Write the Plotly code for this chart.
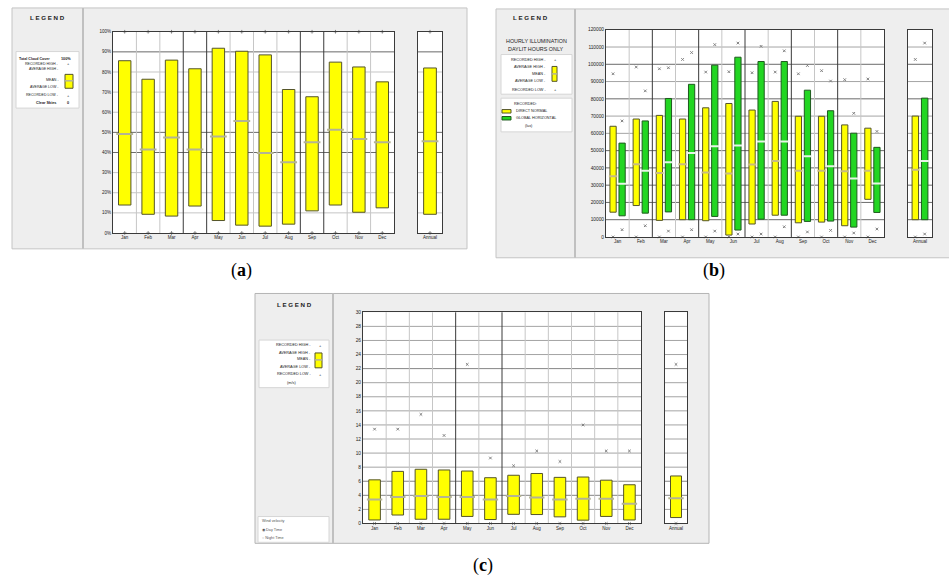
import plotly.graph_objects as go

# ---------------------------------------------------------------- data
MONTHS = ["Jan", "Feb", "Mar", "Apr", "May", "Jun", "Jul", "Aug", "Sep", "Oct", "Nov", "Dec"]
ANNUAL = ["Annual"]

# (a) total cloud cover, %
CLOUD_REC_HIGH = [100, 100, 100, 100, 100, 100, 100, 100, 100, 100, 100, 100]
CLOUD_AVG_HIGH = [85.6, 76.4, 85.9, 81.6, 91.8, 90.3, 88.5, 71.3, 67.7, 84.9, 82.5, 75.1]
CLOUD_MEAN = [49.2, 41.5, 47.5, 41.5, 48.0, 55.7, 39.7, 35.2, 45.1, 51.3, 46.7, 45.1]
CLOUD_AVG_LOW = [13.9, 9.3, 8.4, 13.4, 6.2, 3.9, 3.4, 4.4, 11.0, 13.9, 10.3, 12.5]
CLOUD_REC_LOW = [0, 0, 0, 0, 0, 0, 0, 0, 0, 0, 0, 0]
CLOUD_YR_REC_HIGH = [100]
CLOUD_YR_AVG_HIGH = [82.0]
CLOUD_YR_MEAN = [45.6]
CLOUD_YR_AVG_LOW = [9.3]
CLOUD_YR_REC_LOW = [0]
CLOUD_TICKS = [0, 10, 20, 30, 40, 50, 60, 70, 80, 90, 100]

# (b) hourly illumination, daylit hours only (lux)
DN_REC_HIGH = [94500, 98400, 97400, 102800, 95500, 95700, 95100, 95500, 94500, 96300, 91100, 91500]
DN_AVG_HIGH = [64100, 68300, 70400, 68300, 74800, 77300, 73500, 78500, 69900, 69900, 64900, 63000]
DN_MEAN = [35200, 42100, 37100, 42100, 37300, 36700, 41900, 44000, 38300, 38300, 38100, 38300]
DN_AVG_LOW = [14350, 18200, 9600, 10000, 9400, 1100, 7500, 12600, 8200, 8600, 6500, 21800]
DN_REC_LOW = [0, 0, 0, 0, 0, 0, 0, 0, 0, 0, 0, 0]
GH_REC_HIGH = [67200, 84600, 98000, 106800, 111400, 112300, 110400, 107800, 99300, 90300, 71600, 61100]
GH_AVG_HIGH = [54350, 67200, 80200, 88400, 99500, 104100, 101600, 101600, 85000, 73100, 60100, 51900]
GH_MEAN = [30800, 38300, 43300, 48600, 52600, 53000, 55300, 55300, 46700, 41000, 33900, 31000]
GH_AVG_LOW = [12250, 13800, 14500, 10000, 11900, 4000, 10300, 12600, 9000, 9200, 5700, 14200]
GH_REC_LOW = [4200, 6500, 3400, 4200, 3400, 1700, 1700, 5900, 2900, 3800, 2300, 4600]
DN_YR_REC_HIGH = [102800]
DN_YR_AVG_HIGH = [70000]
DN_YR_MEAN = [38900]
DN_YR_AVG_LOW = [10000]
DN_YR_REC_LOW = [0]
GH_YR_REC_HIGH = [112300]
GH_YR_AVG_HIGH = [80400]
GH_YR_MEAN = [44000]
GH_YR_AVG_LOW = [10000]
GH_YR_REC_LOW = [1700]
LUX_TICKS = [0, 10000, 20000, 30000, 40000, 50000, 60000, 70000, 80000, 90000, 100000, 110000, 120000]

# (c) wind velocity (m/s)
WIND_REC_HIGH = [13.4, 13.4, 15.5, 12.5, 22.6, 9.3, 8.2, 10.3, 8.8, 14.0, 10.3, 10.3]
WIND_AVG_HIGH = [6.2, 7.4, 7.7, 7.6, 7.45, 6.5, 6.85, 7.1, 6.55, 6.6, 6.15, 5.5]
WIND_MEAN = [3.4, 3.75, 3.9, 3.75, 3.75, 3.4, 3.9, 3.7, 3.4, 3.5, 3.5, 2.8]
WIND_AVG_LOW = [0.5, 1.2, 0.6, 0.6, 1.0, 0.56, 1.3, 1.27, 0.94, 0.47, 1.0, 0.5]
WIND_REC_LOW = [0, 0, 0, 0, 0, 0, 0, 0, 0, 0, 0, 0]
WIND_YR_REC_HIGH = [22.6]
WIND_YR_AVG_HIGH = [6.75]
WIND_YR_MEAN = [3.6]
WIND_YR_AVG_LOW = [0.84]
WIND_YR_REC_LOW = [0]
WIND_TICKS = [0, 2, 4, 6, 8, 10, 12, 14, 16, 18, 20, 22, 24, 26, 28, 30]

# ---------------------------------------------------------------- style
W, H = 949, 581
FONT = "Liberation Sans, Arial, sans-serif"
PANEL_BG = "#eeeeee"
PANEL_EDGE = "#c4c4c4"
GRID_LIGHT = "#c6c6c6"
GRID_MID = "#a4a4a4"
GRID_DARK = "#6a6a6a"
AXIS_DARK = "#3a3a3a"
YELLOW = "#ffff00"
YELLOW_EDGE = "#55552a"
GREEN = "#22d622"
GREEN_EDGE = "#1e5a1e"
MARK = "#808080"

fig = go.Figure()
shapes = []
annotations = []


def fx(px):
    return px / W


def fy(py):
    return 1 - py / H


def rect(x0, y0, x1, y1, fill, edge, lw=1):
    shapes.append(dict(type="rect", xref="paper", yref="paper", x0=fx(x0), x1=fx(x1),
                       y0=fy(y1), y1=fy(y0), fillcolor=fill, line=dict(color=edge, width=lw),
                       layer="below"))


def vline(x, y0, y1, color, lw=1):
    shapes.append(dict(type="line", xref="paper", yref="paper", x0=fx(x), x1=fx(x),
                       y0=fy(y1), y1=fy(y0), line=dict(color=color, width=lw), layer="below"))


def text(x, y, s, size=4, anchor="right", bold=False, color="#222222", family=FONT):
    if bold:
        s = "<b>" + s + "</b>"
    annotations.append(dict(x=fx(x), y=fy(y), xref="paper", yref="paper", text=s,
                            showarrow=False, xanchor=anchor, yanchor="middle",
                            font=dict(size=size, color=color, family=family)))


def suffix(n):
    return "" if n == 1 else str(n)


def setup_axes(n, xpx, ypx, cats, ticks, ticktext, show_y, yfont, xfont):
    s = suffix(n)
    fig.update_layout(**{
        "xaxis" + s: dict(domain=[fx(xpx[0]), fx(xpx[1])], range=[-0.5, len(cats) - 0.5],
                          tickvals=list(range(len(cats))), ticktext=cats, anchor="y" + s,
                          showgrid=False, zeroline=False, showline=True, mirror=True,
                          linecolor=AXIS_DARK, linewidth=1, ticks="", fixedrange=True,
                          tickfont=dict(size=xfont, family=FONT, color="#222222")),
        "yaxis" + s: dict(domain=[fy(ypx[1]), fy(ypx[0])], range=[ticks[0], ticks[-1]],
                          tickvals=ticks, ticktext=ticktext, showticklabels=show_y,
                          anchor="x" + s, showgrid=False, zeroline=False, showline=True,
                          mirror=True, linecolor=AXIS_DARK, linewidth=1, ticks="",
                          fixedrange=True,
                          tickfont=dict(size=yfont, family=FONT, color="#222222")),
    })
    # white plotting area
    shapes.append(dict(type="rect", xref="x%s domain" % s, yref="y%s domain" % s,
                       x0=0, x1=1, y0=0, y1=1, fillcolor="white", line=dict(width=0),
                       layer="below"))


def grid(n, ticks, dark_vals, ncols, dark_seps, base_col=GRID_LIGHT, dark_col=GRID_DARK):
    s = suffix(n)
    for v in ticks[1:-1]:
        dark = v in dark_vals
        shapes.append(dict(type="line", xref="x%s domain" % s, yref="y" + s, x0=0, x1=1,
                           y0=v, y1=v, layer="below",
                           line=dict(color=dark_col if dark else base_col, width=1)))
    for i in range(ncols - 1):
        b = i + 0.5
        dark = b in dark_seps
        shapes.append(dict(type="line", xref="x" + s, yref="y%s domain" % s, x0=b, x1=b,
                           y0=0, y1=1, layer="below",
                           line=dict(color=AXIS_DARK if dark else GRID_LIGHT, width=1)))


def add_boxes(n, cats, rec_hi, avg_hi, mean, avg_lo, rec_lo, fill, edge, width, offset,
              bar_px, mean_col, mark_sym="x-thin"):
    s = suffix(n)
    xs = list(range(len(cats)))
    fig.add_trace(go.Bar(x=xs, y=[h - l for h, l in zip(avg_hi, avg_lo)], base=avg_lo,
                         width=width, offset=offset, xaxis="x" + s, yaxis="y" + s,
                         marker=dict(color=fill, line=dict(color=edge, width=1)),
                         showlegend=False, hoverinfo="skip"))
    cx = [i + offset + width / 2 for i in xs]
    fig.add_trace(go.Scatter(x=cx, y=mean, mode="markers", xaxis="x" + s, yaxis="y" + s,
                             marker=dict(symbol="line-ew", size=bar_px,
                                         line=dict(color=mean_col, width=2)),
                             showlegend=False, hoverinfo="skip"))
    fig.add_trace(go.Scatter(x=cx + cx, y=list(rec_hi) + list(rec_lo), mode="markers",
                             xaxis="x" + s, yaxis="y" + s, cliponaxis=False,
                             marker=dict(symbol=mark_sym, size=2.6, color=MARK,
                                         line=dict(color=MARK, width=1)),
                             showlegend=False, hoverinfo="skip"))


# ---------------------------------------------------------------- panel frames
rect(12, 6, 467, 249, PANEL_BG, PANEL_EDGE)
vline(83, 6, 249, "#c0c0c0", 2)
rect(496, 7, 951, 258, PANEL_BG, PANEL_EDGE)
vline(575, 7, 258, "#c0c0c0", 2)
rect(255, 294, 709, 546, PANEL_BG, "#b4b4b4")
vline(333, 294, 546, "#c0c0c0", 2)

# ---------------------------------------------------------------- (a) cloud cover
pct_text = ["%d%%" % v for v in CLOUD_TICKS]
setup_axes(1, (113, 394), (30, 233), MONTHS, CLOUD_TICKS, pct_text, True, 4.5, 4.5)
setup_axes(2, (418, 442), (30, 233), ANNUAL, CLOUD_TICKS, pct_text, False, 4.5, 4.5)
grid(1, CLOUD_TICKS, [40, 50, 90], 12, [2.5, 3.5, 7.5, 8.5])
grid(2, CLOUD_TICKS, [40, 50, 90], 1, [])
add_boxes(1, MONTHS, CLOUD_REC_HIGH, CLOUD_AVG_HIGH, CLOUD_MEAN, CLOUD_AVG_LOW, CLOUD_REC_LOW,
          YELLOW, YELLOW_EDGE, 0.53, -0.265, 12, "#b4b494", "cross-thin")
add_boxes(2, ANNUAL, CLOUD_YR_REC_HIGH, CLOUD_YR_AVG_HIGH, CLOUD_YR_MEAN, CLOUD_YR_AVG_LOW,
          CLOUD_YR_REC_LOW, YELLOW, YELLOW_EDGE, 0.53, -0.265, 12, "#b4b494", "cross-thin")

# ---------------------------------------------------------------- (b) illumination
lux_text = [str(v) for v in LUX_TICKS]
setup_axes(3, (606, 884), (28, 237), MONTHS, LUX_TICKS, lux_text, True, 4.8, 4.5)
setup_axes(4, (908, 932), (28, 237), ANNUAL, LUX_TICKS, lux_text, False, 4.8, 4.5)
lux_dark = [10000, 20000, 30000, 40000, 50000, 80000, 100000]
grid(3, LUX_TICKS, lux_dark, 12, [1.5, 3.5, 5.5, 7.5, 9.5], GRID_MID)
grid(4, LUX_TICKS, lux_dark, 1, [], GRID_MID)
add_boxes(3, MONTHS, DN_REC_HIGH, DN_AVG_HIGH, DN_MEAN, DN_AVG_LOW, DN_REC_LOW,
          YELLOW, YELLOW_EDGE, 0.27, -0.33, 6, "#c8bc80")
add_boxes(3, MONTHS, GH_REC_HIGH, GH_AVG_HIGH, GH_MEAN, GH_AVG_LOW, GH_REC_LOW,
          GREEN, GREEN_EDGE, 0.27, 0.06, 6, "#e6f5e6")
add_boxes(4, ANNUAL, DN_YR_REC_HIGH, DN_YR_AVG_HIGH, DN_YR_MEAN, DN_YR_AVG_LOW, DN_YR_REC_LOW,
          YELLOW, YELLOW_EDGE, 0.27, -0.33, 6, "#c8bc80")
add_boxes(4, ANNUAL, GH_YR_REC_HIGH, GH_YR_AVG_HIGH, GH_YR_MEAN, GH_YR_AVG_LOW, GH_YR_REC_LOW,
          GREEN, GREEN_EDGE, 0.27, 0.06, 6, "#e6f5e6")

# ---------------------------------------------------------------- (c) wind velocity
wind_text = [str(v) for v in WIND_TICKS]
setup_axes(5, (363, 641), (313, 526), MONTHS, WIND_TICKS, wind_text, True, 4.8, 4.5)
setup_axes(6, (665, 687), (313, 526), ANNUAL, WIND_TICKS, wind_text, False, 4.8, 4.5)
grid(5, WIND_TICKS, [4, 6, 22], 12, [3.5, 5.5], GRID_MID, "#858585")
grid(6, WIND_TICKS, [4, 6, 22], 1, [], GRID_MID, "#858585")
add_boxes(5, MONTHS, WIND_REC_HIGH, WIND_AVG_HIGH, WIND_MEAN, WIND_AVG_LOW, WIND_REC_LOW,
          YELLOW, YELLOW_EDGE, 0.5, -0.25, 11, "#b4b494")
add_boxes(6, ANNUAL, WIND_YR_REC_HIGH, WIND_YR_AVG_HIGH, WIND_YR_MEAN, WIND_YR_AVG_LOW,
          WIND_YR_REC_LOW, YELLOW, YELLOW_EDGE, 0.5, -0.25, 11, "#b4b494")

# ---------------------------------------------------------------- legends
# (a)
text(47, 16, "L E G E N D", 6.2, "center", True)
rect(16, 50, 79, 107, "white", "#d6d6d6")
text(52, 57, "Total Cloud Cover", 3.6, "right", True)
text(65.5, 57, "100%", 3.8, "center", True)
for label, yy in [("RECORDED HIGH -", 62.3), ("AVERAGE HIGH -", 67.6), ("MEAN -", 79),
                  ("AVERAGE LOW -", 86), ("RECORDED LOW -", 94)]:
    text(61, yy, label, 3.6, "right")
text(68, 62.3, "+", 4, "center")
text(68, 94, "+", 4, "center")
text(58, 101.5, "Clear Skies", 3.8, "right", True)
text(68, 101.5, "0", 3.8, "center", True)
rect(65, 73, 73, 87, YELLOW, YELLOW_EDGE)
shapes.append(dict(type="line", xref="paper", yref="paper", x0=fx(65), x1=fx(73),
                   y0=fy(79.5), y1=fy(79.5), line=dict(color="#b4b494", width=1.5)))

# (b)
text(530, 16, "L E G E N D", 6.2, "center", True)
text(536, 39, "HOURLY ILLUMINATION", 5.4, "center")
text(536, 47, "DAYLIT HOURS ONLY", 5.4, "center")
rect(501, 53, 572, 93, "white", "#d6d6d6")
for label, yy in [("RECORDED HIGH -", 58.3), ("AVERAGE HIGH -", 65.3), ("MEAN -", 72.7),
                  ("AVERAGE LOW -", 80), ("RECORDED LOW -", 88.3)]:
    text(548, yy, label, 3.8, "right")
text(555, 58.3, "+", 4, "center")
text(555, 88.3, "+", 4, "center")
rect(552, 65, 557, 80, YELLOW, YELLOW_EDGE)
shapes.append(dict(type="line", xref="paper", yref="paper", x0=fx(552), x1=fx(557),
                   y0=fy(72.5), y1=fy(72.5), line=dict(color="#b4b494", width=1.5)))
rect(501, 97, 572, 131, "white", "#d6d6d6")
text(512, 103.3, "RECORDED:", 3.8, "left")
rect(502, 108.5, 511, 112, YELLOW, YELLOW_EDGE)
text(514, 110.3, "DIRECT NORMAL", 3.8, "left")
rect(502, 115.5, 511, 119, GREEN, GREEN_EDGE)
text(514, 117.3, "GLOBAL HORIZONTAL", 3.8, "left")
text(528.5, 125, "(lux)", 3.8, "center")

# (c)
text(294.5, 305, "L E G E N D", 6.2, "center", True)
rect(259, 341, 329, 389, "white", "#d6d6d6")
for label, yy in [("RECORDED HIGH -", 346), ("AVERAGE HIGH -", 353.7), ("MEAN -", 360.3),
                  ("AVERAGE LOW -", 367.7), ("RECORDED LOW -", 375.7)]:
    text(313, yy, label, 3.8, "right")
text(320, 346, "+", 4, "center")
text(320, 375.7, "+", 4, "center")
text(291, 384.3, "(m/s)", 3.8, "center")
rect(315, 354, 322, 369, YELLOW, YELLOW_EDGE)
shapes.append(dict(type="line", xref="paper", yref="paper", x0=fx(315), x1=fx(322),
                   y0=fy(361), y1=fy(361), line=dict(color="#b4b494", width=1.5)))
rect(258, 519, 329, 545, "white", "#d6d6d6")
text(260, 523.5, "Wind velocity", 3.8, "left", False, "#555555")
text(260, 532.5, "\u25c9 Day Time", 3.8, "left", False, "#555555")
text(260, 540.5, "\u25cb Night Time", 3.8, "left", False, "#555555")

# ---------------------------------------------------------------- sub-figure captions
SERIF = "Liberation Serif, Times New Roman, serif"
text(241, 271, "(<b>a</b>)", 18, "center", False, "#000000", SERIF)
text(714, 271, "(<b>b</b>)", 18, "center", False, "#000000", SERIF)
text(482.5, 568, "(<b>c</b>)", 18, "center", False, "#000000", SERIF)

fig.update_layout(width=W, height=H, margin=dict(l=0, r=0, t=0, b=0),
                  paper_bgcolor="white", plot_bgcolor="rgba(0,0,0,0)",
                  barmode="overlay", showlegend=False,
                  shapes=shapes, annotations=annotations)

fig.write_html("out.html")
